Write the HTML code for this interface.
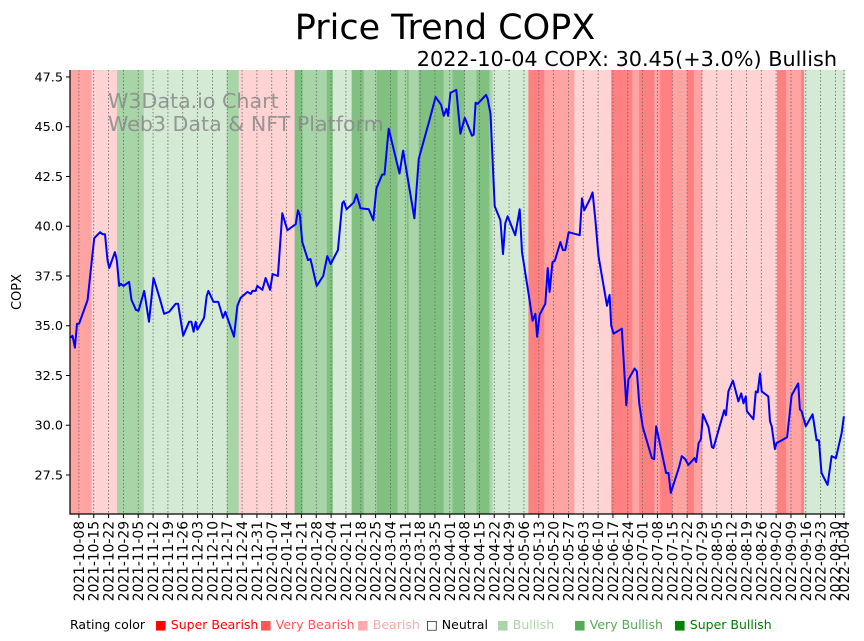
<!DOCTYPE html>
<html><head><meta charset="utf-8"><style>
body{margin:0;background:#fff;}
svg{display:block;font-family:"Liberation Sans","DejaVu Sans",sans-serif;}
</style></head><body>
<svg id="chart" width="864" height="641" viewBox="0 0 864 641" xmlns="http://www.w3.org/2000/svg">
<text x="445" y="39" text-anchor="middle" font-size="35" font-family="DejaVu Sans, sans-serif">Price Trend COPX</text>
<text x="837" y="66" text-anchor="end" font-size="20.8" font-family="DejaVu Sans, sans-serif">2022-10-04 COPX: 30.45(+3.0%) Bullish</text>
<g id="bands"></g>
<g id="grid"></g>
<text x="108" y="108" font-size="20.6" fill="#888" fill-opacity="0.85" font-family="DejaVu Sans, sans-serif">W3Data.io Chart</text>
<text x="108" y="131" font-size="20.6" fill="#888" fill-opacity="0.85" font-family="DejaVu Sans, sans-serif">Web3 Data &amp; NFT Platform</text>
<g id="series"></g>
<g id="axes"></g>
<text transform="translate(21,292) rotate(-90)" text-anchor="middle" font-size="13" font-family="DejaVu Sans, sans-serif">COPX</text>
<g id="legend" font-size="12.5" font-family="DejaVu Sans, sans-serif">
<text x="70" y="629">Rating color</text>
<text x="155" y="629" fill="#ff0000">■ Super Bearish</text>
<text x="260" y="629" fill="#ff5555">■ Very Bearish</text>
<text x="357" y="629" fill="#ffaaaa">■ Bearish</text>
<text x="426" y="629" fill="#000">□ Neutral</text>
<text x="497" y="629" fill="#aad4aa">■ Bullish</text>
<text x="574" y="629" fill="#55aa55">■ Very Bullish</text>
<text x="674" y="629" fill="#008000">■ Super Bullish</text>
</g>
</svg>
<script>
// days since 2021-10-04
const bandStarts = [0,10,22,34.6,73.8,79.4,105.8,109.6,121,123.8,132.7,138.4,144.5,154.4,158.7,159.6,164.3,176.1,180.3,186,191.6,197.7,199.2,216.1,223.6,237.8,255.2,265.1,268.4,275.5,278.3,284,291,294.3,298.1,333.4,337.7,344.8,346.2];
const bandRatings = [2,3,6,5,6,3,7,6,7,5,7,6,7,6,7,6,7,6,7,6,7,6,5,1,2,3,1,2,1,2,1,2,1,2,3,1,2,1,5];
const priceDays = [0,1,2.1,3.1,4.1,8.1,11.2,14,15.2,16.3,17.5,18.3,21,21.9,23,23.8,25.1,27.7,28.8,30.9,32.1,34.8,37.1,39.2,41.8,44.2,46.6,49.7,50.8,53.2,56,57.1,58.1,59.1,59.9,63.1,64.3,65.1,67.5,69.8,72,73.1,77.2,78.8,80.3,83.5,85.1,85.9,87.4,88.2,90.6,92.1,94.2,95.4,97.9,100,102.4,106.3,107.4,108.3,109.4,112.1,113.3,116.2,119.3,121.2,122.8,126.2,128.3,129,130.3,133.7,135,136.9,140.8,142.9,144.4,147.1,148.2,150.2,155.3,157,162.3,164.4,169.1,172.3,174.9,176.2,177.4,178.2,179.3,182.1,184,186.1,189.5,190.3,191.2,192.2,196.1,196.9,198.2,200.2,202.9,204.1,205.2,206.3,209.9,212,213.1,216.2,218.1,219.4,220.2,221.4,224.1,225.2,226.1,227.5,228.5,231.2,232.4,233.5,235.1,240.3,241.4,242.5,245.3,246.4,247.7,249.2,251.6,253.2,254.4,255.2,256.3,260.2,262.3,263.3,266.2,267.3,268.4,270.1,274.4,275.4,276.4,281.1,282.2,283.3,287.2,288.5,290.1,291.6,294.5,295.3,296.4,297.5,298.5,301.1,302.7,303.4,305.8,308.5,309.3,310.5,312.6,315.2,316.5,317.6,318.7,319.2,322.3,323.4,324.3,325.4,326.2,329.3,330.1,330.9,332.4,333.2,338.2,340.3,343.4,344.2,345,347,350.2,352.1,353.2,354.4,357.3,359.2,361.2,363.9,365];
const priceValues = [34.4,34.5,33.9,35.1,35.1,36.3,39.4,39.7,39.6,39.6,38.3,37.9,38.7,38.3,37,37.1,37,37.2,36.3,35.8,35.75,36.75,35.2,37.4,36.5,35.6,35.7,36.1,36.1,34.5,35.2,35.2,34.7,35.2,34.8,35.4,36.5,36.75,36.2,36.2,35.4,35.7,34.45,36,36.4,36.7,36.6,36.75,36.75,37,36.8,37.4,36.8,37.6,37.5,40.65,39.8,40.1,40.8,40.55,39.2,38.3,38.35,37,37.5,38.5,38.1,38.8,41.15,41.25,40.85,41.2,41.6,40.9,40.85,40.3,41.9,42.6,42.6,44.9,42.65,43.8,40.4,43.4,45.2,46.5,46.1,45.55,45.9,45.55,46.7,46.85,44.65,45.45,44.55,44.6,46.2,46.15,46.6,46.4,45.65,41,40.3,38.6,40.15,40.5,39.55,40.85,38.7,36.6,35.25,35.6,34.45,35.55,36.1,37.9,36.7,38.2,38.25,39.2,38.8,38.8,39.7,39.55,41.4,40.8,41.4,41.7,40.3,38.5,37,36,36.55,35,34.6,34.85,31,32.3,32.85,32.7,31.1,29.9,28.35,28.3,29.95,27.6,27.6,26.6,27.9,28.45,28.3,28,28.35,28.15,29.1,29.3,30.55,29.9,28.9,28.85,29.75,30.75,30.5,31.7,32.25,31.2,31.6,31.1,31.45,30.7,30.3,31.7,31.65,32.6,31.7,31.45,30.2,29.95,28.8,29.1,29.4,31.5,32.1,30.8,30.7,29.95,30.55,29.25,29.25,27.6,27,28.45,28.35,29.6,30.45];
const yTicks = [27.5,30.0,32.5,35.0,37.5,40.0,42.5,45.0,47.5];
const ratingFills = {1:'#ff8080',2:'#ffa3a3',3:'#ffd3d3',5:'#d4ead4',6:'#a8d5a8',7:'#80c080'};

const NS='http://www.w3.org/2000/svg';
const L=70,R=845,T=70,B=514, dMin=-0.2, dMax=365.5, vMin=25.54, vMax=47.85;
const xs=d=>L+(d-dMin)/(dMax-dMin)*(R-L);
const ys=v=>B-(v-vMin)/(vMax-vMin)*(B-T);
function mk(tag,attrs,parent){const e=document.createElementNS(NS,tag);for(const k in attrs)e.setAttribute(k,attrs[k]);parent.appendChild(e);return e;}

const gb=document.getElementById('bands');
for(let i=0;i<bandStarts.length;i++){
  const a=Math.max(xs(bandStarts[i]),L), b=i+1<bandStarts.length?xs(bandStarts[i+1]):R;
  const r=mk('rect',{x:a,y:T,width:Math.max(0,b-a)+0.3,height:B-T,fill:ratingFills[bandRatings[i]]},gb);
  
  
}
const base=new Date(Date.UTC(2021,9,4));
const tickDays=[];for(let d=4;d<=361;d+=7)tickDays.push(d);tickDays.push(365);
const gg=document.getElementById('grid'), ga=document.getElementById('axes');
function fmt(d){const t=new Date(base.getTime()+d*86400000);return t.toISOString().slice(0,10);}
tickDays.forEach(d=>{
  const x=xs(d);
  const g=mk('line',{x1:x,x2:x,y1:T,y2:B,stroke:'#666','stroke-width':0.8,'stroke-dasharray':'1.5,2'},gg);
  
  
  mk('line',{x1:x,x2:x,y1:B,y2:B+4,stroke:'#000','stroke-width':1},ga);
  const t=mk('text',{transform:`translate(${x+5},${B+7}) rotate(-90)`,'text-anchor':'end','font-size':13.8,'font-family':'DejaVu Sans, sans-serif'},ga);
  t.textContent=fmt(d);
  
  
});
yTicks.forEach(v=>{
  const y=ys(v);
  mk('line',{x1:L-4,x2:L,y1:y,y2:y,stroke:'#000','stroke-width':1},ga);
  const t=mk('text',{x:L-7,y:y+4.5,'text-anchor':'end','font-size':12.8,'font-family':'DejaVu Sans, sans-serif'},ga);
  t.textContent=v.toFixed(1);
  
  
});
const ax=mk('path',{d:`M${L},${T}V${B}H${R}`,fill:'none',stroke:'#000','stroke-width':1.2},ga);


const pts=priceDays.map((d,i)=>xs(d).toFixed(1)+','+ys(priceValues[i]).toFixed(1)).join(' ');
const line=mk('polyline',{points:pts,fill:'none',stroke:'#0000ff','stroke-width':2,'stroke-linejoin':'round'},document.getElementById('series'));


</script>
</body></html>
